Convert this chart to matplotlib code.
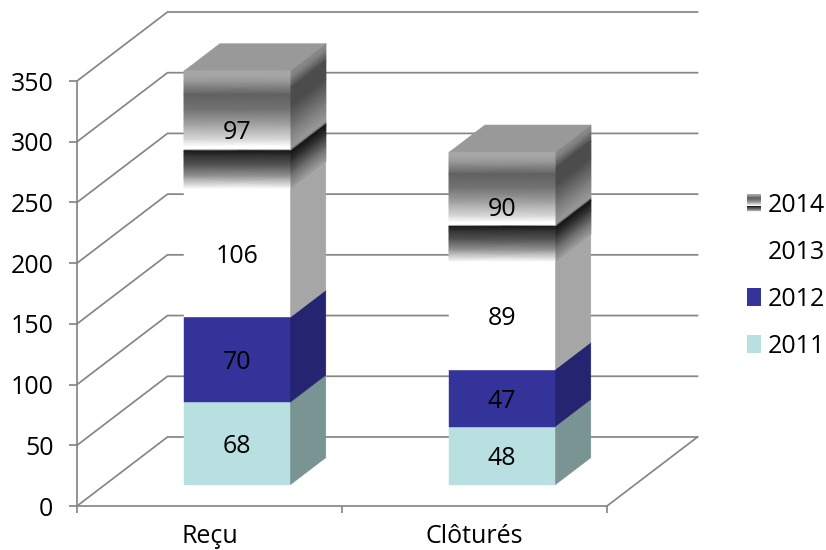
import matplotlib
matplotlib.use('Agg')
import matplotlib.pyplot as plt
import numpy as np
from matplotlib.legend_handler import HandlerBase
from matplotlib.patches import Patch, Polygon, Rectangle

categories = ['Reçu', 'Clôturés']
years = ['2011', '2012', '2013', '2014']
values_2011 = [68, 48]
values_2012 = [70, 47]
values_2013 = [106, 89]
values_2014 = [97, 90]
y_ticks = [0, 50, 100, 150, 200, 250, 300, 350]

W, H = 826, 550
LEFT, RIGHT, TOP, BOTTOM = 77, 607, 81, 506
GRID = '#868686'
FONT = 'Open Sans'
FSIZE = 18
LW = 1.25

# oblique projection: depth z in 0..1 moves a point right and up
SHIFT_X = 90.5 / 265
SHIFT_Y = 69 / 1.214
BAR_W = 0.4
Z0, Z1 = 0.304, 0.7

# grey ramps of the shiny top segment, position measured from its top
FRONT_POS = [0, .04, .10, .20, .33, .47, .59, .64, .665, .68, .72, .80, .90, 1]
FRONT_GREY = [.65, .65, .58, .38, .45, .66, .86, 1, 1, .10, .20, .33, .60, 1]
SIDE_POS = [0, .06, .15, .30, .50, .65, .67, .69, .78, .88, 1]
SIDE_GREY = [.55, .50, .30, .30, .48, .60, .55, .08, .22, .42, .62]


def proj(x, y, z):
    return x + z * SHIFT_X, y + z * SHIFT_Y


def face(ax, c0, c1, z0, z1, y0, y1, color, zorder=3):
    # c0/c1 are the x ends, z0/z1 the depth ends of the face
    pts = [proj(c0, y0, z0), proj(c1, y0, z1), proj(c1, y1, z1), proj(c0, y1, z0)]
    ax.add_patch(Polygon(pts, closed=True, facecolor=color, edgecolor=color,
                         lw=0.3, zorder=zorder, clip_on=False))


def shaded_face(ax, c0, c1, z0, z1, y0, y1, pos, grey, zorder=3):
    pos = np.array(pos)
    ys = y1 - pos * (y1 - y0)
    xa, ya = proj(c0, ys, z0)
    xb, yb = proj(c1, ys, z1)
    X = np.column_stack([xa, xb])
    Y = np.column_stack([ya, yb])
    C = np.column_stack([grey, grey])
    mesh = ax.pcolormesh(X, Y, C, shading='gouraud', cmap='gray', vmin=0, vmax=1,
                         zorder=zorder)
    mesh.set_clip_on(False)


class ShinySwatch(HandlerBase):
    def create_artists(self, legend, orig_handle, xdescent, ydescent, width, height, fontsize, trans):
        stripes = []
        n = 40
        for i in range(n):
            g = np.interp((i + 0.5) / n, FRONT_POS, FRONT_GREY)
            stripes.append(Rectangle((xdescent, ydescent + height * (1 - (i + 1) / n)),
                                     width, height / n + 0.2, facecolor=str(g),
                                     edgecolor='none', transform=trans))
        return stripes


fig = plt.figure(figsize=(W / 100, H / 100), dpi=100)
ax = fig.add_axes([LEFT / W, 1 - BOTTOM / H, (RIGHT - LEFT) / W, (BOTTOM - TOP) / H])
ax.set_xlim(0, 2)
ax.set_ylim(0, 350)

# walls and floor lines
for v in y_ticks:
    xs, ys = zip(proj(0, v, 0), proj(0, v, 1), proj(2, v, 1))
    ax.plot(xs, ys, color=GRID, lw=LW, zorder=1, clip_on=False)
xs, ys = zip(proj(2, 0, 0), proj(2, 0, 1))
ax.plot(xs, ys, color=GRID, lw=LW, zorder=1, clip_on=False)

# stacked columns
fronts = ['#b9e0e0', '#333399', '#ffffff']
sides = ['#7a9494', '#242470', '#a6a6a6']
tops = '#999999'
for i in range(len(categories)):
    x0 = i + 0.5 - BAR_W / 2
    x1 = i + 0.5 + BAR_W / 2
    base = 0
    stack = [values_2011[i], values_2012[i], values_2013[i], values_2014[i]]
    for k, val in enumerate(stack):
        y0, y1 = base, base + val
        if k < 3:
            face(ax, x1, x1, Z0, Z1, y0, y1, sides[k])
            face(ax, x0, x1, Z0, Z0, y0, y1, fronts[k], zorder=4)
        else:
            shaded_face(ax, x1, x1, Z0, Z1, y0, y1, SIDE_POS, SIDE_GREY)
            shaded_face(ax, x0, x1, Z0, Z0, y0, y1, FRONT_POS, FRONT_GREY, zorder=4)
            pts = [proj(x0, y1, Z0), proj(x1, y1, Z0), proj(x1, y1, Z1), proj(x0, y1, Z1)]
            ax.add_patch(Polygon(pts, closed=True, facecolor=tops, edgecolor=tops,
                                 lw=0.3, zorder=3, clip_on=False))
        lx, ly = proj(i + 0.5, (y0 + y1) / 2, Z0)
        ax.text(lx, ly, str(val), ha='center', va='center_baseline', fontsize=FSIZE,
                family=FONT, color='black', zorder=6)
        base = y1

ax.set_xticks([0, 1, 2])
ax.set_xticklabels([])
ax.set_xticks([0.5, 1.5], minor=True)
ax.set_xticklabels(categories, minor=True, fontsize=FSIZE, family=FONT)
ax.tick_params(axis='x', which='major', length=5, width=LW, color=GRID)
ax.tick_params(axis='x', which='minor', length=0, pad=13)
ax.set_yticks(y_ticks)
ax.set_yticklabels([str(v) for v in y_ticks], fontsize=FSIZE, family=FONT)
ax.tick_params(axis='y', length=6, width=LW, color=GRID, pad=11)
for s in ['top', 'right']:
    ax.spines[s].set_visible(False)
for s in ['left', 'bottom']:
    ax.spines[s].set_color(GRID)
    ax.spines[s].set_linewidth(LW)
ax.patch.set_alpha(0)

handles = [Patch(label=years[3]),
           Patch(facecolor='#ffffff', edgecolor='none', label=years[2]),
           Patch(facecolor=fronts[1], edgecolor='none', label=years[1]),
           Patch(facecolor=fronts[0], edgecolor='none', label=years[0])]
leg = ax.legend(handles=handles, loc='center left',
                bbox_to_anchor=((747 - LEFT) / (RIGHT - LEFT), (BOTTOM - 276) / (BOTTOM - TOP)),
                frameon=False, borderpad=0, borderaxespad=0, labelspacing=0.87,
                handlelength=0.56, handleheight=0.72, handletextpad=0.28,
                prop={'family': FONT, 'size': FSIZE},
                handler_map={handles[0]: ShinySwatch()})

fig.savefig('out.png', dpi=100, facecolor='white')
